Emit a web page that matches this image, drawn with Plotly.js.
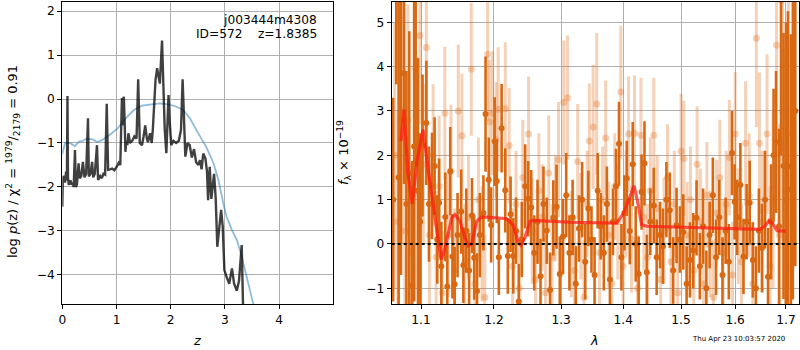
<!DOCTYPE html>
<html>
<head>
<meta charset="utf-8">
<script src="https://cdn.plot.ly/plotly-3.0.1.min.js"></script>
<style>html,body{margin:0;padding:0;background:#fff;}#chart{width:800px;height:350px;}</style>
</head>
<body>
<div id="chart"></div>
<script>
// ---------- Left panel: log p(z) ----------
const pzZ = [0,0.01,0.03,0.05,0.07,0.085,0.095,0.105,0.12,0.15,0.17,0.19,0.21,0.234,0.25,0.27,0.30,0.32,0.35,0.38,0.41,0.44,0.474,0.49,0.52,0.55,0.57,0.60,0.64,0.66,0.70,0.73,0.76,0.79,0.82,0.845,0.88,0.92,0.96,1.00,1.04,1.07,1.10,1.115,1.125,1.135,1.15,1.165,1.18,1.20,1.22,1.25,1.29,1.33,1.37,1.40,1.43,1.47,1.50,1.53,1.56,1.58,1.62,1.65,1.67,1.69,1.72,1.75,1.80,1.84,1.86,1.89,1.92,1.96,1.98,2.01,2.05,2.10,2.15,2.19,2.22,2.245,2.27,2.31,2.35,2.39,2.43,2.47,2.51,2.54,2.57,2.60,2.64,2.67,2.69,2.72,2.75,2.80,2.83,2.86,2.89,2.93,2.96,2.99,3.03,3.08,3.13,3.17,3.22,3.26,3.31,3.325,3.34];
const pzLog = [-2.45,-1.8,-1.75,-1.9,-1.65,-1.85,0.07,-1.8,-1.95,-1.85,-1.95,-1.9,-2.0,-1.16,-2.0,-1.95,-1.46,-1.8,-1.75,-1.43,-1.78,-1.7,-0.44,-1.76,-1.7,-1.43,-1.78,-1.7,-1.05,-1.84,-1.75,-1.8,-1.7,-1.72,-0.11,-1.61,-1.6,-1.58,-1.62,-1.55,-1.45,-1.5,0.02,-0.6,0.0,0.05,-0.5,-1.2,-0.95,-1.05,-0.78,-1.0,-0.95,-0.85,-0.9,0.45,-1.0,-1.05,-0.85,-0.6,-0.9,-0.98,-0.78,-1.0,-0.7,-0.32,0.43,0.7,0.35,1.33,0.66,-0.7,-1.23,0.09,-0.48,-1.05,-0.95,-1.0,-0.95,-0.7,0.45,-0.66,-1.31,-1.0,-1.05,-1.33,-1.14,-1.44,-1.5,-1.39,-1.6,-1.24,-1.35,-1.65,-2.3,-1.54,-2.27,-1.7,-2.25,-3.36,-2.98,-2.52,-2.9,-3.89,-4.04,-4.2,-3.85,-4.2,-4.36,-4.14,-3.32,-3.9,-5.0];
const chiZ = [0,0.05,0.14,0.23,0.31,0.38,0.45,0.56,0.65,0.74,0.86,1.02,1.17,1.32,1.47,1.66,1.80,1.96,2.10,2.23,2.36,2.48,2.54,2.66,2.79,2.88,2.97,3.03,3.13,3.22,3.31,3.40,3.52,3.60];
const chiLog = [-1.25,-1.0,-1.0,-1.07,-0.97,-0.95,-0.9,-0.92,-0.98,-0.93,-0.83,-0.67,-0.44,-0.25,-0.15,-0.12,-0.1,-0.12,-0.17,-0.25,-0.45,-0.72,-0.85,-1.1,-1.46,-1.84,-2.37,-2.67,-2.98,-3.2,-3.58,-4.04,-4.64,-4.95];
const zTicks = [0,1,2,3,4];
const logTicks = [-4,-3,-2,-1,0,1,2];

// ---------- Right panel: spectrum ----------
const darkLam = [1.064,1.068,1.071,1.074,1.078,1.081,1.0847,1.0885,1.091,1.093,1.096,1.099,1.102,1.107,1.1105,1.1145,1.118,1.1215,1.124,1.127,1.1323,1.135,1.139,1.142,1.145,1.149,1.154,1.157,1.161,1.165,1.169,1.172,1.176,1.18,1.185,1.188,1.1925,1.196,1.201,1.204,1.207,1.211,1.2163,1.22,1.224,1.228,1.232,1.236,1.2405,1.2455,1.25,1.2545,1.259,1.264,1.2685,1.273,1.278,1.283,1.288,1.293,1.298,1.303,1.308,1.313,1.318,1.323,1.328,1.333,1.338,1.343,1.348,1.353,1.358,1.363,1.368,1.373,1.378,1.383,1.388,1.393,1.397,1.402,1.406,1.411,1.416,1.421,1.426,1.431,1.436,1.44,1.446,1.452,1.457,1.463,1.468,1.474,1.48,1.486,1.492,1.498,1.504,1.51,1.516,1.522,1.528,1.534,1.54,1.546,1.552,1.558,1.564,1.570,1.576,1.582,1.588,1.594,1.599,1.604,1.61,1.616,1.622,1.628,1.634,1.64,1.646,1.652,1.658,1.664,1.67,1.675,1.68,1.686,1.690,1.695,1.70,1.704,1.71,1.714,1.719];
const darkFlux = [1.0,6.0,1.5,2.8,3.85,0.9,1.6,-0.93,2.2,3.95,1.2,0.5,2.22,2.73,0.9,1.31,1.76,0.1,0.93,-0.5,0.61,-0.96,1.64,-0.28,-0.91,0.2,0.73,-0.48,0.3,-0.6,0.64,-0.31,-1.06,0.2,0.7,2.93,1.45,0.43,2.31,1.42,-0.3,2.61,1.21,-0.27,0.67,-0.27,0.3,-1.3,0.1,1.3,1.02,0.82,-0.2,0.5,-0.73,0.9,0.3,-1.04,0.59,0.84,-0.68,0.17,1.1,-0.2,0.6,-0.9,0.35,1.0,-0.4,0.8,0.1,-0.7,1.2,0.4,-0.2,0.9,-0.8,0.5,1.3,2.26,-0.3,0.7,1.48,0.29,1.8,0.0,-0.68,1.17,1.82,-0.64,0.5,0.87,-0.3,0.2,-0.05,1.0,0.76,-0.6,0.42,0.1,0.27,-0.9,-0.36,-0.15,0.59,-0.5,0.4,-1.0,0.2,1.1,-0.3,0.6,-0.7,0.3,-0.4,2.05,0.95,0.6,1.33,-0.28,0.5,0.93,-0.36,-1.0,0.3,-0.09,1.0,-0.74,0.5,2.0,2.3,0.4,5.5,1.76,1.0,1.75,1.23,2.75,3.0];
const darkErr = [2.3,2.4,4.0,3.5,2.5,3.0,3.2,2.8,3.5,2.2,3.0,2.0,1.6,1.4,1.3,1.2,1.1,1.0,1.0,1.0,1.0,0.95,1.0,0.95,0.85,0.95,0.95,0.85,0.95,0.85,0.85,0.95,0.85,0.95,0.85,1.3,0.95,0.85,1.0,0.95,0.85,1.0,0.95,0.85,0.85,0.85,0.75,0.85,0.85,0.95,0.85,0.85,0.85,0.95,0.85,0.85,0.75,0.85,0.85,0.95,0.85,0.85,0.95,0.85,0.85,0.85,0.75,0.85,0.85,0.85,0.75,0.85,0.85,0.75,0.85,0.85,0.85,0.75,0.85,0.95,0.75,0.85,0.85,0.75,0.95,0.85,0.85,0.85,0.95,0.85,0.75,0.85,0.85,0.75,0.85,0.85,0.85,0.75,0.85,0.75,0.85,0.85,0.85,0.85,0.85,0.75,0.85,0.85,0.75,0.85,0.85,0.85,0.85,0.75,0.85,0.95,0.85,0.85,0.95,0.85,0.85,0.95,0.85,0.95,0.95,1.0,1.1,1.1,1.3,1.5,1.6,2.2,3.5,3.0,4.0,3.5,3.5,4.0,3.5];
const lightLam = [1.066,1.07,1.075,1.079,1.083,1.087,1.092,1.0987,1.103,1.107,1.111,1.116,1.12,1.124,1.128,1.1317,1.136,1.14,1.145,1.150,1.155,1.159,1.164,1.168,1.173,1.178,1.183,1.187,1.191,1.194,1.198,1.203,1.206,1.2163,1.222,1.227,1.232,1.237,1.242,1.2505,1.256,1.261,1.266,1.271,1.276,1.281,1.286,1.291,1.296,1.3042,1.31,1.316,1.321,1.326,1.331,1.336,1.341,1.3446,1.3507,1.3564,1.361,1.366,1.371,1.376,1.381,1.386,1.391,1.396,1.4,1.405,1.409,1.414,1.419,1.424,1.43,1.435,1.441,1.446,1.452,1.458,1.464,1.47,1.476,1.482,1.488,1.494,1.5,1.505,1.511,1.517,1.523,1.529,1.535,1.541,1.547,1.553,1.559,1.565,1.571,1.577,1.583,1.589,1.595,1.6,1.606,1.612,1.620,1.627,1.634,1.641,1.647,1.653,1.662,1.668,1.674,1.681,1.687,1.693,1.699,1.705];
const lightFlux = [2.0,0.5,3.0,0.3,2.8,-0.2,1.2,4.70,1.8,4.43,0.2,2.0,-0.3,1.3,-1.1,2.95,0.2,1.64,-0.6,3.0,2.44,-0.4,0.6,3.94,-0.9,1.0,0.0,-1.2,4.28,2.75,2.95,2.35,3.04,3.05,2.22,-0.5,0.9,-1.0,1.5,2.48,0.3,-0.8,1.2,0.6,-1.1,1.6,-0.3,0.8,1.9,3.19,3.3,0.0,-0.6,1.86,0.4,-1.2,0.9,2.32,2.64,3.16,-0.2,1.0,2.39,0.2,-0.9,1.3,0.5,3.43,-0.5,0.9,2.48,0.1,2.5,-1.0,2.45,0.6,-0.3,1.2,2.45,0.8,-0.8,0.3,1.5,-0.4,0.9,-1.1,2.09,1.93,0.2,1.0,-0.6,1.8,0.5,-0.9,1.1,0.0,-1.2,0.7,1.5,-0.2,0.9,1.95,-0.7,2.48,0.4,-0.4,2.27,1.1,-0.9,4.64,2.27,0.5,2.48,-0.5,1.0,4.48,0.2,3.0,1.2,2.5];
const lightErr = [3.0,2.5,3.0,2.0,2.6,2.0,2.2,2.0,1.8,2.0,1.6,1.6,1.5,1.6,1.4,1.5,1.4,1.5,1.4,1.5,1.4,1.3,1.4,1.5,1.4,1.4,1.3,1.4,1.5,1.4,1.4,1.3,1.4,1.5,1.3,1.3,1.2,1.3,1.3,1.3,1.2,1.2,1.3,1.2,1.3,1.3,1.2,1.2,1.3,1.4,1.4,1.2,1.2,1.3,1.2,1.3,1.2,1.3,1.4,1.6,1.2,1.2,1.3,1.2,1.3,1.2,1.3,1.5,1.2,1.2,1.3,1.2,1.3,1.2,1.3,1.2,1.2,1.2,1.3,1.2,1.2,1.2,1.2,1.2,1.2,1.2,1.3,1.3,1.2,1.2,1.2,1.3,1.2,1.2,1.2,1.2,1.3,1.2,1.3,1.2,1.2,1.3,1.2,1.4,1.3,1.3,1.4,1.4,1.4,2.0,1.6,1.6,1.8,1.8,2.0,2.5,2.5,3.0,3.2,3.5];
const modelLam = [1.0741,1.0779,1.0830,1.0885,1.0950,1.1026,1.1092,1.1175,1.1229,1.1266,1.1300,1.1332,1.1410,1.1455,1.1524,1.1593,1.1638,1.1685,1.1755,1.1825,1.1943,1.2183,1.2279,1.2352,1.2392,1.2451,1.2526,1.2576,1.3139,1.3889,1.3998,1.4110,1.4183,1.4252,1.4310,1.4396,1.5398,1.6477,1.6576,1.6661,1.6740,1.6820,1.6995];
const modelFlux = [2.32,3.03,1.6,0.9,1.9,2.58,1.7,0.7,0.0,-0.35,-0.2,0.0,0.59,0.66,0.52,0.14,-0.04,0.0,0.51,0.61,0.6,0.57,0.42,0.04,-0.03,0.14,0.51,0.53,0.49,0.47,0.67,1.05,1.31,0.89,0.44,0.4,0.36,0.33,0.4,0.53,0.44,0.3,0.29];
const lamTicks = [1.1,1.2,1.3,1.4,1.5,1.6,1.7];
const lamTickText = ['1.1','1.2','1.3','1.4','1.5','1.6','1.7'];
const fluxTicks = [-1,0,1,2,3,4,5];

const FONT = 'DejaVu Sans, Liberation Sans, sans-serif';
const FS = 12.2;
const darkC = 'rgb(217,104,18)';
const lightC = 'rgba(225,112,30,0.32)';

const traces = [
  {x: chiZ, y: chiLog, xaxis: 'x', yaxis: 'y', type: 'scatter', mode: 'lines',
   line: {color: 'rgba(31,119,180,0.5)', width: 1.8}, hoverinfo: 'skip'},
  {x: pzZ, y: pzLog, xaxis: 'x', yaxis: 'y', type: 'scatter', mode: 'lines',
   line: {color: 'rgba(0,0,0,0.75)', width: 2.4}, hoverinfo: 'skip'},
  {x: lightLam, y: lightFlux, xaxis: 'x2', yaxis: 'y2', type: 'scatter', mode: 'markers',
   marker: {color: lightC, size: 7},
   error_y: {type: 'data', array: lightErr, visible: true, color: lightC, thickness: 3, width: 0}},
  {x: darkLam, y: darkFlux, xaxis: 'x2', yaxis: 'y2', type: 'scatter', mode: 'markers',
   marker: {color: darkC, size: 6},
   error_y: {type: 'data', array: darkErr, visible: true, color: darkC, thickness: 2.6, width: 0}},
  {x: modelLam, y: modelFlux, xaxis: 'x2', yaxis: 'y2', type: 'scatter', mode: 'lines',
   line: {color: 'rgba(255,25,15,0.72)', width: 3.2}}
];

const axBase = {
  showgrid: true, gridcolor: '#b0b0b0', gridwidth: 1,
  showline: true, linecolor: 'black', linewidth: 1, mirror: true,
  ticks: 'outside', ticklen: 4, tickcolor: 'black', tickwidth: 1,
  zeroline: false, tickfont: {family: FONT, size: FS, color: 'black'},
  automargin: false
};
const minus = v => v < 0 ? '\u2212' + Math.abs(v) : String(v);

const layout = {
  width: 800, height: 350,
  margin: {l: 0, r: 0, t: 0, b: 0},
  paper_bgcolor: 'white', plot_bgcolor: 'white',
  showlegend: false,
  font: {family: FONT, size: FS, color: 'black'},
  xaxis: Object.assign({}, axBase, {domain: [62.3/800, 333.3/800], range: [0, 5.0],
    tickmode: 'array', tickvals: zTicks, anchor: 'y'}),
  yaxis: Object.assign({}, axBase, {domain: [1-304/350, 1-2/350], range: [-4.66, 2.205],
    tickmode: 'array', tickvals: logTicks, ticktext: logTicks.map(minus), anchor: 'x'}),
  xaxis2: Object.assign({}, axBase, {domain: [391.7/800, 799/800], type: 'log',
    range: [Math.log10(1.0622), Math.log10(1.7266)],
    tickmode: 'array', tickvals: lamTicks, ticktext: lamTickText, anchor: 'y2'}),
  yaxis2: Object.assign({}, axBase, {domain: [1-304/350, 1-2/350], range: [-1.354, 5.458],
    tickmode: 'array', tickvals: fluxTicks, ticktext: fluxTicks.map(minus), anchor: 'x2'}),
  shapes: [
    {type: 'line', xref: 'x2 domain', yref: 'y2', x0: 0, x1: 1, y0: 0, y1: 0,
     line: {color: 'black', width: 2, dash: 'dot'}}
  ],
  annotations: [
    {text: 'j003444m4308', xref: 'paper', yref: 'paper', x: 319/800, y: 1-20/350,
     xanchor: 'right', yanchor: 'middle', showarrow: false, font: {family: FONT, size: FS}},
    {text: 'ID=572\u00a0\u00a0\u00a0\u00a0z=1.8385', xref: 'paper', yref: 'paper', x: 319/800, y: 1-34.5/350,
     xanchor: 'right', yanchor: 'middle', showarrow: false, font: {family: FONT, size: FS}},
    {text: '<i>z</i>', xref: 'paper', yref: 'paper', x: 197/800, y: 1-340/350,
     xanchor: 'center', yanchor: 'middle', showarrow: false, font: {family: FONT, size: 13}},
    {text: '<i>λ</i>', xref: 'paper', yref: 'paper', x: 594/800, y: 1-340/350,
     xanchor: 'center', yanchor: 'middle', showarrow: false, font: {family: FONT, size: 13}},
    {text: 'log <i>p</i>(z) / χ<sup>2</sup> = <sup>1979</sup>/<sub>2179</sub> = 0.91', xref: 'paper', yref: 'paper',
     x: 13/800, y: 1-162/350, textangle: -90, xanchor: 'center', yanchor: 'middle', showarrow: false,
     font: {family: FONT, size: 13}},
    {text: '<i>f</i><sub>λ</sub> × 10<sup>−19</sup>', xref: 'paper', yref: 'paper',
     x: 344/800, y: 1-153/350, textangle: -90, xanchor: 'center', yanchor: 'middle', showarrow: false,
     font: {family: FONT, size: 13}},
    {text: 'Thu Apr 23 10:03:57 2020', xref: 'paper', yref: 'paper', x: 787/800, y: 1-339/350,
     xanchor: 'right', yanchor: 'middle', showarrow: false, font: {family: FONT, size: 7}}
  ]
};

Plotly.newPlot('chart', traces, layout, {staticPlot: true, displayModeBar: false});
</script>
</body>
</html>
